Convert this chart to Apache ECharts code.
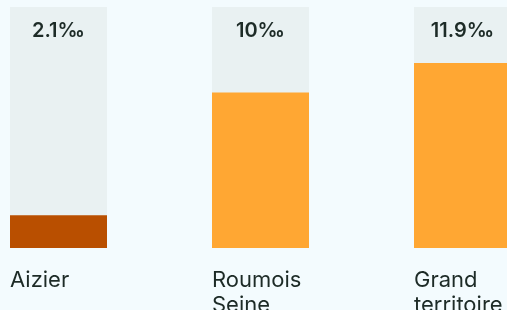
<!DOCTYPE html>
<html>
<head>
<meta charset="utf-8">
<script src="https://cdn.jsdelivr.net/npm/echarts@6/dist/echarts.min.js"></script>
<style>
  html, body { margin: 0; padding: 0; background: #f3fbfe; }
  #main { width: 507px; height: 310px; }
</style>
</head>
<body>
<div id="main"></div>
<script>
// données
var communes = ['Aizier', 'Roumois\nSeine', 'Grand\nterritoire'];
var taux = [2.1, 10, 11.9];
var couleurs = ['#b94f00', '#ffa733', '#ffa733'];
var maxTaux = 15.5;

var chart = echarts.init(document.getElementById('main'));

var option = {
  backgroundColor: '#f3fbfe',
  animation: false,
  grid: {
    left: -42.5, right: -56.5, top: 7, bottom: 62,
    containLabel: false,
    outerBoundsMode: 'none'
  },
  xAxis: {
    type: 'category',
    data: communes,
    axisLine: { show: false },
    axisTick: { show: false },
    axisLabel: {
      interval: 0,
      hideOverlap: false,
      align: 'left',
      padding: [0, 0, 0, -48.5],
      margin: 20,
      fontFamily: 'Inter',
      fontSize: 22,
      lineHeight: 25,
      color: '#1d2b27'
    }
  },
  yAxis: {
    type: 'value',
    min: 0,
    max: maxTaux,
    show: false
  },
  series: [
    {
      // fond gris
      type: 'bar',
      barWidth: 97,
      barGap: '-100%',
      silent: true,
      data: communes.map(function () { return maxTaux; }),
      itemStyle: { color: '#e9f1f2' },
      label: {
        show: true,
        position: 'insideTop',
        distance: 14,
        fontFamily: 'Inter',
        fontSize: 20,
        fontWeight: 600,
        color: '#1d2b27',
        formatter: function (p) { return taux[p.dataIndex] + '‰'; }
      }
    },
    {
      type: 'bar',
      barWidth: 97,
      barGap: '-100%',
      data: taux.map(function (v, i) {
        return { value: v, itemStyle: { color: couleurs[i] } };
      })
    }
  ]
};

chart.setOption(option);
</script>
</body>
</html>
